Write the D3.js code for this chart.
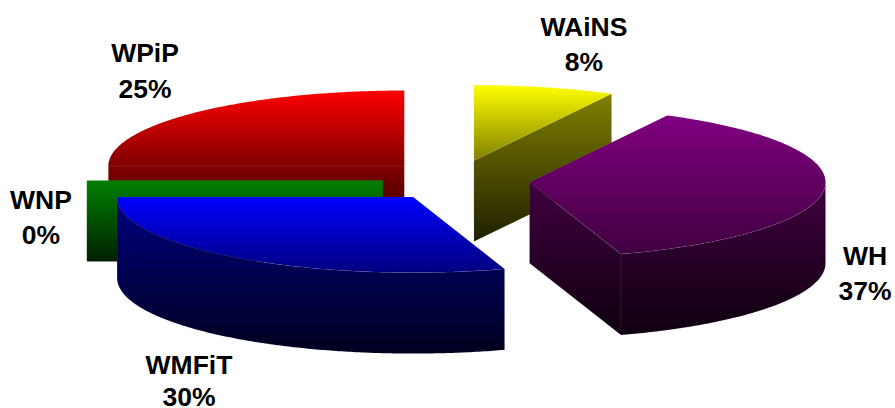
<!DOCTYPE html>
<html><head><meta charset="utf-8">
<script src="https://cdn.jsdelivr.net/npm/d3@7/dist/d3.min.js"></script>
<style>html,body{margin:0;background:#fff}svg{display:block}
text{font-family:"Liberation Sans",Arial,sans-serif;font-weight:700;font-size:26.5px;fill:#000;text-anchor:middle}</style>
</head><body><script>
const categories = ["WAiNS","WH","WMFiT","WNP","WPiP"];
const values = [7.7,37.3,30,0,25];
const colors = ["#ffff00","#800080","#0000ff","#00ff00","#ff0000"];
const labelAnchors = [[584,36,71],[865,265,300],[189,374,406],[41,209,244],[145,62,98]];
const drawOrder = [0,4,3,2,1];

const W=895,H=408, cx=456.3, cy=180.5, rx=296, ry=75.5, depth=81, ex=73.5, ey=20.5;
const svg=d3.select("body").append("svg").attr("width",W).attr("height",H);
const defs=svg.append("defs");
const arcs=d3.pie().sort(null).value(d=>d)(values);
const line=d3.line().x(d=>d[0]).y(d=>d[1]);
const shadeTop=[1,0.5], shadeSide=[0.5,0.12];
const shade=(c,k)=>{const r=d3.rgb(c);return d3.rgb(r.r*k,r.g*k,r.b*k).formatRgb();};
function gradient(id,c,s,y1,y2){
  const g=defs.append("linearGradient").attr("id",id).attr("gradientUnits","userSpaceOnUse")
    .attr("x1",0).attr("x2",0).attr("y1",y1).attr("y2",y2);
  g.append("stop").attr("offset",0).attr("stop-color",shade(c,s[0]));
  g.append("stop").attr("offset",1).attr("stop-color",shade(c,s[1]));
}
function sweep(a0,a1){const n=Math.max(1,Math.ceil((a1-a0)/0.01));return d3.range(n+1).map(i=>a0+(a1-a0)*i/n);}
const edge="rgba(255,255,255,0.13)";
drawOrder.forEach(i=>{
  const a=arcs[i], mid=(a.startAngle+a.endAngle)/2;
  const ax=cx+ex*Math.sin(mid), ay=cy-ey*Math.cos(mid);
  const P=(t,dz=0)=>[ax+rx*Math.sin(t),ay-ry*Math.cos(t)+dz];
  const topPts=[[ax,ay],...sweep(a.startAngle,a.endAngle).map(t=>P(t))];
  const ys=topPts.map(p=>p[1]);
  gradient("t"+i,colors[i],shadeTop,d3.min(ys),Math.max(d3.max(ys),d3.min(ys)+1));
  const sides=[];
  const face=t=>sides.push([[ax,ay],P(t),P(t,depth),[ax,ay+depth]]);
  if(a.startAngle>Math.PI) face(a.startAngle);
  if(a.endAngle<Math.PI) face(a.endAngle);
  const b0=Math.max(a.startAngle,Math.PI/2), b1=Math.min(a.endAngle,3*Math.PI/2);
  if(b1>b0){
    const s=sweep(b0,b1);
    sides.push([...s.map(t=>P(t)),...s.slice().reverse().map(t=>P(t,depth))]);
  }
  const sideYs=sides.flat().map(p=>p[1]);
  gradient("s"+i,colors[i],shadeSide,d3.min(sideYs),d3.max(sideYs));
  const g=svg.append("g").attr("class","slice").datum(categories[i]);
  sides.forEach(d=>g.append("path").attr("d",line(d)+"Z").attr("fill",`url(#s${i})`).attr("stroke",edge).attr("stroke-width",0.5));
  if(a.endAngle>a.startAngle)
    g.append("path").attr("d",line(topPts)+"Z").attr("fill",`url(#t${i})`).attr("stroke",edge).attr("stroke-width",0.5);
  const fmt=d3.format(".0f");
  const l=labelAnchors[i];
  g.append("text").attr("x",l[0]).attr("y",l[1]).text(categories[i]);
  g.append("text").attr("x",l[0]).attr("y",l[2]).text(fmt(values[i])+"%");
});
</script></body></html>
